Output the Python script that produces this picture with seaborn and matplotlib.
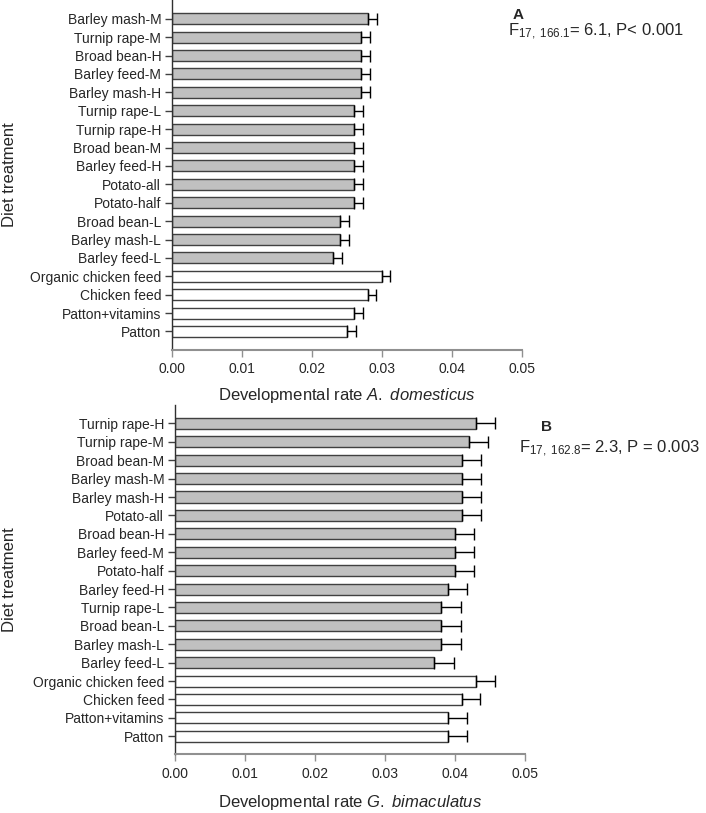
import numpy as np
import pandas as pd
import matplotlib
matplotlib.use("Agg")
import matplotlib.pyplot as plt
import seaborn as sns

# ---------------- data ----------------
cats_a = ["Barley mash-M", "Turnip rape-M", "Broad bean-H", "Barley feed-M", "Barley mash-H",
          "Turnip rape-L", "Turnip rape-H", "Broad bean-M", "Barley feed-H", "Potato-all",
          "Potato-half", "Broad bean-L", "Barley mash-L", "Barley feed-L",
          "Organic chicken feed", "Chicken feed", "Patton+vitamins", "Patton"]
vals_a = [0.028, 0.027, 0.027, 0.027, 0.027, 0.026, 0.026, 0.026, 0.026, 0.026,
          0.026, 0.024, 0.024, 0.023, 0.030, 0.028, 0.026, 0.025]
err_a = [0.0012, 0.0012, 0.0012, 0.0012, 0.0012, 0.0012, 0.0012, 0.0012, 0.0012, 0.0012,
         0.0012, 0.0012, 0.0012, 0.0012, 0.0011, 0.0011, 0.0012, 0.0012]
group_a = ["exp"] * 14 + ["ctrl"] * 4

cats_b = ["Turnip rape-H", "Turnip rape-M", "Broad bean-M", "Barley mash-M", "Barley mash-H",
          "Potato-all", "Broad bean-H", "Barley feed-M", "Potato-half", "Barley feed-H",
          "Turnip rape-L", "Broad bean-L", "Barley mash-L", "Barley feed-L",
          "Organic chicken feed", "Chicken feed", "Patton+vitamins", "Patton"]
vals_b = [0.043, 0.042, 0.041, 0.041, 0.041, 0.041, 0.040, 0.040, 0.040, 0.039,
          0.038, 0.038, 0.038, 0.037, 0.043, 0.041, 0.039, 0.039]
err_b = [0.0027, 0.0027, 0.0027, 0.0027, 0.0027, 0.0027, 0.0027, 0.0027, 0.0027, 0.0027,
         0.0028, 0.0028, 0.0028, 0.0028, 0.0027, 0.0025, 0.0027, 0.0027]
group_b = ["exp"] * 14 + ["ctrl"] * 4

xticks = [0.00, 0.01, 0.02, 0.03, 0.04, 0.05]
xtick_labels = ["0.00", "0.01", "0.02", "0.03", "0.04", "0.05"]

# ---------------- style ----------------
sns.set_theme(style="ticks")
plt.rcParams['font.family'] = ['Liberation Sans', 'DejaVu Sans']
plt.rcParams['mathtext.fontset'] = 'custom'
plt.rcParams['mathtext.rm'] = 'Liberation Sans'
plt.rcParams['mathtext.it'] = 'Liberation Sans:italic'
plt.rcParams['mathtext.bf'] = 'Liberation Sans:bold'

palette = {"exp": "#c0c0c0", "ctrl": "#ffffff"}

fig = plt.figure(figsize=(7.06, 8.13), dpi=100)
W, H = 706.0, 813.0

ax_a = fig.add_axes([172.3 / W, 1 - 349.5 / H, 350 / W, (349.5 - 0.4) / H])
ax_b = fig.add_axes([175.3 / W, 1 - 754.3 / H, 350 / W, (754.3 - 405) / H])


def draw(ax, cats, vals, errs, groups, xlabel, labelpad):
    df = pd.DataFrame({"cat": cats, "val": vals, "err": errs, "grp": groups})
    sns.barplot(data=df, x="val", y="cat", hue="grp", palette=palette, order=cats,
                dodge=False, width=0.6, errorbar=None, legend=False,
                edgecolor="#404040", linewidth=1.0, ax=ax)
    ypos = np.arange(len(cats))
    ax.errorbar(df["val"], ypos, xerr=[np.zeros(len(cats)), df["err"]], fmt="none",
                ecolor="black", elinewidth=1.0, capsize=4, capthick=1.0)
    ax.set_xlim(0, 0.05)
    ax.set_ylim(17.98, -1.0)
    ax.set_xticks(xticks)
    ax.set_xticklabels(xtick_labels, fontsize=10)
    ax.tick_params(axis="y", labelsize=10, length=5, width=1, color="#404040", pad=3)
    ax.tick_params(axis="x", length=5, width=1, color="#909090", pad=4)
    ax.set_ylabel("")
    ax.set_xlabel(xlabel, fontsize=12, labelpad=labelpad)
    for s in ["top", "right"]:
        ax.spines[s].set_visible(False)
    ax.spines["left"].set_color("#303030")
    ax.spines["left"].set_linewidth(1.0)
    ax.spines["bottom"].set_color("#909090")
    ax.spines["bottom"].set_linewidth(1.5)


draw(ax_a, cats_a, vals_a, err_a, group_a,
     r"Developmental rate $\mathit{A.}$ $\mathit{domesticus}$", 7)
draw(ax_b, cats_b, vals_b, err_b, group_b,
     r"Developmental rate $\mathit{G.}$ $\mathit{bimaculatus}$", 9)

# y labels
fig.text(10 / W, 1 - 175 / H, "Diet treatment", rotation=90, fontsize=12,
         ha="center", va="center")
fig.text(10 / W, 1 - 580 / H, "Diet treatment", rotation=90, fontsize=12,
         ha="center", va="center")

# panel annotations
fig.text(513 / W, 1 - 15 / H, "A", fontsize=11, fontweight="bold", ha="left", va="center")
fig.text(508 / W, 1 - 36 / H, r"$\mathregular{F_{17,\ 166.1}}$= 6.1, P< 0.001",
         fontsize=12, ha="left", va="baseline")
fig.text(541 / W, 1 - 427 / H, "B", fontsize=11, fontweight="bold", ha="left", va="center")
fig.text(519 / W, 1 - 453 / H, r"$\mathregular{F_{17,\ 162.8}}$= 2.3, P = 0.003",
         fontsize=12, ha="left", va="baseline")

fig.savefig("out.png", dpi=100)
